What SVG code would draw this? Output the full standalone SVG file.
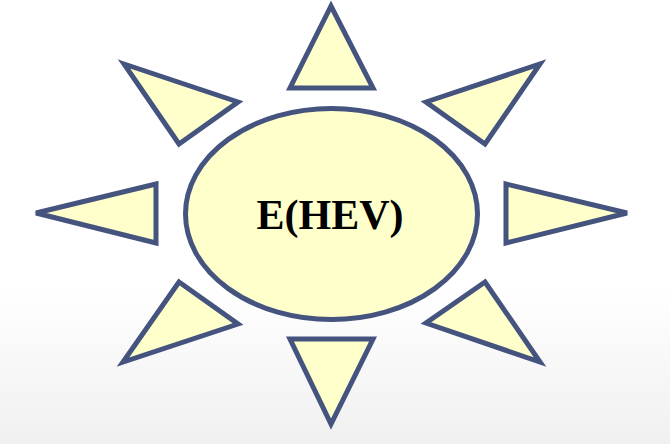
<svg xmlns="http://www.w3.org/2000/svg" width="670" height="444" viewBox="0 0 670 444">
<defs>
<linearGradient id="bg" x1="0" y1="0" x2="0" y2="1">
<stop offset="0" stop-color="#ffffff"/>
<stop offset="0.65" stop-color="#ffffff"/>
<stop offset="1" stop-color="#f0f0f0"/>
</linearGradient>
<style>
.ray{fill:#ffffcc;stroke:#44547f;stroke-width:5;stroke-linejoin:miter}
.core{fill:#ffffcc;stroke:#44547f;stroke-width:5}
.lbl{font-family:"Liberation Serif","Times New Roman",serif;font-weight:bold;font-size:42px;fill:#000}
</style>
</defs>
<rect width="670" height="444" fill="url(#bg)"/>
<g id="connectors"></g>
<g id="ray-top"><polygon class="ray" points="331,6 290,88 373,88"/></g>
<g id="ray-upper-left"><polygon class="ray" points="124,64 238,102 179,144"/></g>
<g id="ray-upper-right"><polygon class="ray" points="426,102 540,64 485,144"/></g>
<g id="ray-left"><polygon class="ray" points="36,213 156,184 156,243"/></g>
<g id="ray-right"><polygon class="ray" points="506,184 506,243 627,213"/></g>
<g id="ray-lower-left"><polygon class="ray" points="179,282 238,324 123,362"/></g>
<g id="ray-lower-right"><polygon class="ray" points="485,282 426,323 540,362"/></g>
<g id="ray-bottom"><polygon class="ray" points="290,339 373,339 331,424"/></g>
<g id="core">
<ellipse class="core" cx="331.5" cy="214" rx="146" ry="105.5"/>
<text class="lbl" x="330" y="229" text-anchor="middle">E(HEV)</text>
</g>
</svg>
